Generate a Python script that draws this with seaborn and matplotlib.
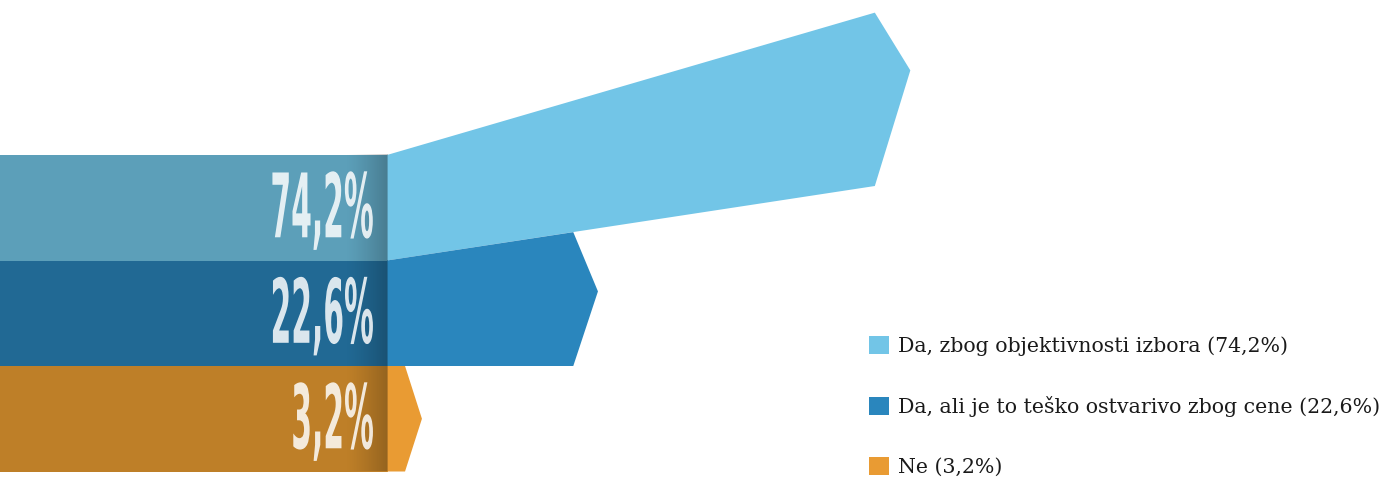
import numpy as np
import pandas as pd
import seaborn as sns
from matplotlib import pyplot as plt
from matplotlib.patches import Polygon, Patch
from matplotlib.patheffects import AbstractPathEffect
from matplotlib.transforms import Affine2D

answers = ['Da, zbog objektivnosti izbora',
           'Da, ali je to teško ostvarivo zbog cene',
           'Ne']
shares = [74.2, 22.6, 3.2]
band_colors = ['#5c9fb9', '#216994', '#be7f28']
arrow_colors = ['#72c5e7', '#2a86bd', '#e99b33']

# layout (pixels on x, category rows on y)
W, H = 1385, 479
BAND_W = 388
ROW_PX = 105.5
EDGE_ANGLES = [16.3, 8.7, 0.0, 0.0]  # fan angle of each arrow edge, degrees


def reach(v):
    # body length of an arrow in px
    return 23.6 * v ** 0.72 - 37.5


class Squeeze(AbstractPathEffect):
    # narrow the glyphs horizontally, keep the right edge in place
    def __init__(self, sx):
        super().__init__()
        self.sx = sx

    def draw_path(self, renderer, gc, tpath, affine, rgbFace=None):
        x1 = tpath.get_extents().x1
        sq = Affine2D().translate(-x1, 0).scale(self.sx, 1).translate(x1, 0)
        renderer.draw_path(gc, tpath, sq + affine, rgbFace)


sns.set_theme(style='white')
plt.rcParams['font.family'] = ['DejaVu Sans']

fig = plt.figure(figsize=(W / 100, H / 100), dpi=100)
ax = fig.add_axes([0, 0, 1, 1])

df = pd.DataFrame({'answer': answers, 'block': [BAND_W] * len(answers)})
sns.barplot(data=df, x='block', y='answer', hue='answer', palette=band_colors,
            orient='h', width=1, saturation=1, linewidth=0, legend=False, ax=ax)

# dark fold at the right end of the blocks
grad = np.zeros((1, 64, 4))
grad[..., 3] = np.linspace(0, 1, 64) ** 1.3 * 0.22
ax.imshow(grad, extent=(345, BAND_W, 2.5, -0.5), aspect='auto',
          interpolation='bilinear', zorder=2)

# fanned arrows
slopes = np.tan(np.radians(EDGE_ANGLES))
for i, v in enumerate(shares):
    L = reach(v)
    top0, bot0 = i - 0.5, i + 0.5
    top1 = top0 - slopes[i] * L / ROW_PX
    bot1 = bot0 - slopes[i + 1] * L / ROW_PX
    h = bot1 - top1
    mean_slope = (slopes[i] + slopes[i + 1]) / 2
    x_end = BAND_W + L
    tip_x = x_end + 0.274 * h * ROW_PX - 12
    tip_y = (top1 + bot1) / 2 - 0.75 * mean_slope * h
    pts = [(BAND_W - 1, top0), (x_end, top1), (tip_x, tip_y),
           (x_end, bot1), (BAND_W - 1, bot0)]
    ax.add_patch(Polygon(pts, closed=True, facecolor=arrow_colors[i],
                         lw=0, zorder=1))

# big percentage labels
for i, v in enumerate(shares):
    ax.text(376, i + 0.28, f'{v:.1f}%'.replace('.', ','), ha='right',
            va='baseline', fontsize=64, fontweight='bold', color='white',
            alpha=0.84, zorder=3, path_effects=[Squeeze(0.335)])

ax.set_xlim(0, W)
ax.set_ylim(2.5 + 7.5 / ROW_PX, -0.5 - 155 / ROW_PX)
ax.axis('off')

handles = [Patch(facecolor=c, edgecolor='none') for c in arrow_colors]
labels = [f'{a} ({v:.1f}%)'.replace('.', ',') for a, v in zip(answers, shares)]
fig.legend(handles, labels, loc='upper left',
           bbox_to_anchor=(869 / W, 1 - 336 / H), frameon=False,
           prop={'family': 'DejaVu Serif', 'size': 14.8}, labelcolor='#1a1a1a',
           handlelength=0.95, handleheight=1.0, handletextpad=0.47,
           labelspacing=1.93, borderpad=0, borderaxespad=0)

fig.savefig('out.png', dpi=100)
